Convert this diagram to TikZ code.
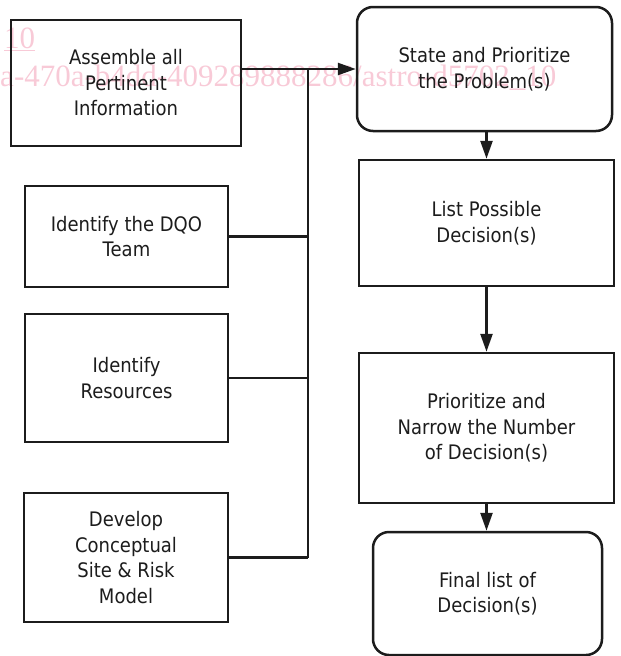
\documentclass[tikz,border=0pt]{standalone}
\usepackage{fontspec}
\setmainfont[FakeStretch=0.9]{DejaVu Sans}
\newfontfamily\wmfont{Liberation Serif}
\usetikzlibrary{arrows.meta}
\definecolor{wmpink}{RGB}{248,202,215}
\definecolor{ink}{RGB}{28,28,28}
\begin{document}
\begin{tikzpicture}[x=1pt,y=-1pt,
  line width=2.5pt,
  box/.style={draw=ink, rectangle, align=center, inner sep=2pt, text=ink,
    font=\fontsize{20}{25.5}\selectfont},
  rbox/.style={box, rounded corners=16pt},
  conn/.style={draw=ink, line width=2.5pt},
  arr/.style={conn, -{Triangle[length=18pt,width=12pt]}},
  wm/.style={inner sep=0pt, text=wmpink, font=\wmfont\fontsize{31}{31}\selectfont}
  ]
\useasboundingbox (0,0) rectangle (621,656);
% watermark
\node[wm, anchor=base west] (wma) at (3,48) {\underline{10}};
\node[wm, anchor=base west] (wmb) at (-1,86) {a-470a-b4dd-409289888286/astro-d5702\_10};
% left column
\node[box, minimum width=230, minimum height=126] (assemble) at (126,83) {Assemble all\\Pertinent\\Information};
\node[box, minimum width=203, minimum height=101] (dqo) at (126.5,236.5) {Identify the DQO\\Team};
\node[box, minimum width=203, minimum height=128] (res) at (126.5,378) {Identify\\Resources};
\node[box, minimum width=204, minimum height=129] (dev) at (126,557.5) {Develop\\Conceptual\\Site \& Risk\\Model};
% right column
\node[rbox, minimum width=255, minimum height=124] (state) at (484.5,69) {State and Prioritize\\the Problem(s)};
\node[box, minimum width=255, minimum height=126] (list) at (486.5,223) {List Possible\\Decision(s)};
\node[box, minimum width=255, minimum height=150] (prio) at (486.5,428) {Prioritize and\\Narrow the Number\\of Decision(s)};
\node[rbox, minimum width=229, minimum height=123] (final) at (487.5,593.5) {Final list of\\Decision(s)};
% connectors
\coordinate (bus) at (308,69);
\draw[arr] (assemble.east |- state.west) -- (state.west);
\draw[conn] (bus) -- (bus |- dev.east);
\draw[conn] (dqo.east) -- (bus |- dqo.east);
\draw[conn] (res.east) -- (bus |- res.east);
\draw[conn] (dev.east) -- (bus |- dev.east);
\draw[arr] (list.north |- state.south) -- (list.north);
\draw[arr] (list.south) -- (prio.north);
\draw[arr] (prio.south) -- (prio.south |- final.north);
\end{tikzpicture}
\end{document}
